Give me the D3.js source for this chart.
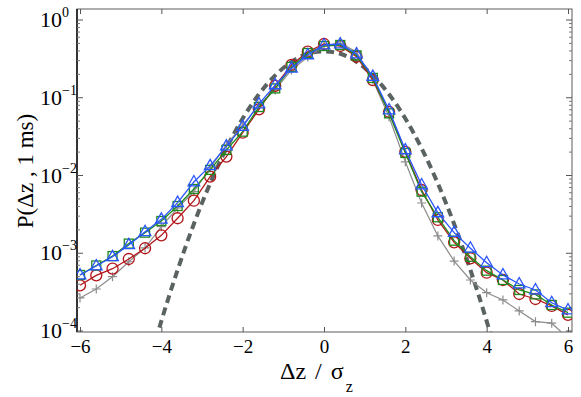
<!DOCTYPE html>
<html>
<head>
<meta charset="utf-8">
<script src="https://cdn.jsdelivr.net/npm/d3@7"></script>
<style>
  body { margin: 0; background: #fff; }
  svg text { font-family: "Liberation Serif", "DejaVu Serif", serif; fill: #000; }
</style>
</head>
<body>
<svg id="chart" width="581" height="397"></svg>
<script>
// bin centres, Δz / σz
const dz = [-6, -5.6, -5.2, -4.8, -4.4, -4, -3.6, -3.2, -2.8, -2.4, -2, -1.6, -1.2, -0.8, -0.4,
  0, 0.4, 0.8, 1.2, 1.6, 2, 2.4, 2.8, 3.2, 3.6, 4, 4.4, 4.8, 5.2, 5.6, 6];

const greyPlus = [2.66e-4, 3.47e-4, 4.99e-4, 7.78e-4, 1.17e-3, 2.2e-3, 3.82e-3, 6.19e-3, 0.0125, 0.0247,
  0.0446, 0.0807, 0.126, 0.228, 0.334, 0.463, 0.506, 0.388, 0.169, 0.0565,
  0.015, 4.43e-3, 1.67e-3, 7.94e-4, 4.53e-4, 3.11e-4, 2.51e-4, 1.81e-4, 1.32e-4, 1.26e-4, 8.1e-5];

const redCircle = [3.87e-4, 5.2e-4, 6.33e-4, 8.43e-4, 1.16e-3, 1.7e-3, 2.82e-3, 4.74e-3, 9.66e-3, 0.0175,
  0.0355, 0.071, 0.142, 0.264, 0.391, 0.491, 0.463, 0.337, 0.169, 0.0656,
  0.0201, 6.51e-3, 2.68e-3, 1.38e-3, 8.61e-4, 5.62e-4, 4.53e-4, 2.99e-4, 2.58e-4, 2.1e-4, 1.61e-4];

const greenSquare = [5.25e-4, 6.96e-4, 9.2e-4, 1.33e-3, 1.84e-3, 2.6e-3, 4.05e-3, 6.7e-3, 0.0118, 0.0213,
  0.0366, 0.076, 0.132, 0.249, 0.376, 0.463, 0.477, 0.351, 0.18, 0.063,
  0.0195, 6.19e-3, 2.9e-3, 1.45e-3, 9.0e-4, 5.97e-4, 4.53e-4, 3.37e-4, 2.96e-4, 2.16e-4, 1.72e-4];

const blueTriangle = [5.25e-4, 6.85e-4, 9.0e-4, 1.28e-3, 1.89e-3, 2.73e-3, 4.47e-3, 8.25e-3, 0.0133, 0.0239,
  0.0425, 0.083, 0.146, 0.239, 0.355, 0.477, 0.491, 0.365, 0.187, 0.0696,
  0.0213, 7.55e-3, 3.3e-3, 1.84e-3, 1.16e-3, 7.55e-4, 5.25e-4, 4.02e-4, 3.37e-4, 2.31e-4, 1.86e-4];

// dashed reference curve
const gaussX = [-4.4, -4, -3.6, -3.2, -2.8, -2.4, -2, -1.6, -1.2, -0.8, -0.4, 0,
  0.4, 0.8, 1.2, 1.6, 2, 2.4, 2.8, 3.2, 3.6, 4, 4.4];
const gaussY = [2.5e-5, 1.34e-4, 6.1e-4, 2.38e-3, 7.9e-3, 0.0224, 0.054, 0.111, 0.194, 0.29, 0.368, 0.395,
  0.368, 0.29, 0.194, 0.111, 0.054, 0.0224, 7.9e-3, 2.38e-3, 6.1e-4, 1.34e-4, 2.5e-5];

const xTicks = [-6, -4, -2, 0, 2, 4, 6];
const yDecades = [-4, -3, -2, -1, 0];

const svg = d3.select('#chart');
const box = { left: 77, right: 572, top: 9, bottom: 332 };

const x = d3.scaleLinear().domain([-6, 6]).range([80, 568]);
const y = d3.scaleLog().domain([1e-4, 1]).range([331, 20]);

svg.append('clipPath').attr('id', 'plotclip')
  .append('rect')
  .attr('x', box.left).attr('y', box.top)
  .attr('width', box.right - box.left).attr('height', box.bottom - box.top);

// frame
svg.append('rect')
  .attr('x', box.left).attr('y', box.top)
  .attr('width', box.right - box.left).attr('height', box.bottom - box.top)
  .attr('fill', 'none').attr('stroke', '#777').attr('stroke-width', 1.2);
svg.append('line')
  .attr('x1', box.left).attr('x2', box.left).attr('y1', box.top).attr('y2', box.bottom)
  .attr('stroke', '#000').attr('stroke-width', 1.4);

// x axes (ticks inward)
const xBottom = svg.append('g')
  .attr('transform', `translate(0,${box.bottom})`)
  .call(d3.axisBottom(x).tickValues(xTicks).tickSizeInner(-5).tickSizeOuter(0).tickPadding(7.5));
xBottom.select('.domain').remove();
xBottom.selectAll('line').attr('stroke', '#555');
xBottom.selectAll('text').attr('font-size', 19).attr('font-family', 'Liberation Serif');

const xTop = svg.append('g')
  .attr('transform', `translate(0,${box.top})`)
  .call(d3.axisTop(x).tickValues(xTicks).tickSizeInner(-5).tickSizeOuter(0).tickFormat(''));
xTop.select('.domain').remove();
xTop.selectAll('line').attr('stroke', '#555');

// y ticks, major + minor, on both sides
const minor = [];
yDecades.slice(0, -1).forEach(d => {
  for (let k = 2; k <= 9; k++) minor.push(k * Math.pow(10, d));
});
const majors = yDecades.map(d => Math.pow(10, d));

[box.left, box.right].forEach(x0 => {
  const dir = x0 === box.left ? 1 : -1;
  svg.append('g').selectAll('line').data(majors).join('line')
    .attr('x1', x0).attr('x2', x0 + dir * 6)
    .attr('y1', d => y(d)).attr('y2', d => y(d))
    .attr('stroke', '#555');
  svg.append('g').selectAll('line').data(minor).join('line')
    .attr('x1', x0).attr('x2', x0 + dir * 3)
    .attr('y1', d => y(d)).attr('y2', d => y(d))
    .attr('stroke', '#777');
});

const yLab = svg.append('g').selectAll('text').data(yDecades).join('text')
  .attr('x', 40).attr('y', d => y(Math.pow(10, d)) + 7)
  .attr('font-size', 22);
yLab.append('tspan').text('10');
yLab.append('tspan').attr('dy', -10).attr('font-size', 14)
  .text(d => d === 0 ? '0' : '\u2212' + Math.abs(d));

// axis titles
svg.append('text')
  .attr('transform', 'translate(33,171) rotate(-90)')
  .attr('text-anchor', 'middle')
  .attr('font-size', 23)
  .text('P(\u0394z , 1 ms)');

const xt = svg.append('text')
  .attr('x', 280).attr('y', 379)
  .attr('font-size', 24)
  .attr('word-spacing', 3);
xt.append('tspan').text('\u0394z / \u03c3');
xt.append('tspan').attr('dy', 13).attr('dx', 2).attr('font-size', 16).text('z');

// data
const plot = svg.append('g').attr('clip-path', 'url(#plotclip)');

plot.append('path')
  .datum(gaussX.map((v, i) => [v, gaussY[i]]))
  .attr('fill', 'none')
  .attr('stroke', '#5a6262')
  .attr('stroke-width', 4)
  .attr('stroke-dasharray', '8,5')
  .attr('d', d3.line().x(d => x(d[0])).y(d => y(d[1])).curve(d3.curveNatural));

const series = [
  { values: greyPlus, color: '#8c8c8c', marker: 'plus', width: 1.2 },
  { values: redCircle, color: '#b2161a', marker: 'circle', width: 1.3 },
  { values: greenSquare, color: '#1f8a1f', marker: 'square', width: 1.3 },
  { values: blueTriangle, color: '#2b55ff', marker: 'triangle', width: 1.3 }
];

const line = d3.line().x(d => x(d[0])).y(d => y(d[1]));

series.forEach(s => {
  const pts = dz.map((v, i) => [v, s.values[i]]);
  plot.append('path').datum(pts)
    .attr('fill', 'none').attr('stroke', s.color).attr('stroke-width', s.width)
    .attr('d', line);

  const g = plot.append('g').attr('fill', 'none').attr('stroke', s.color).attr('stroke-width', s.width);
  const pos = g.selectAll('g').data(pts).join('g')
    .attr('transform', d => `translate(${x(d[0])},${y(d[1])})`);
  if (s.marker === 'circle') {
    pos.append('circle').attr('r', 5.5);
  } else if (s.marker === 'square') {
    pos.append('rect').attr('x', -4.5).attr('y', -4.5).attr('width', 9).attr('height', 9);
  } else if (s.marker === 'triangle') {
    pos.append('path').attr('d', 'M0,-6.5L5.8,3.8L-5.8,3.8Z');
  } else {
    pos.append('path').attr('d', 'M-4.5,0H4.5M0,-4.5V4.5');
  }
});
</script>
</body>
</html>
